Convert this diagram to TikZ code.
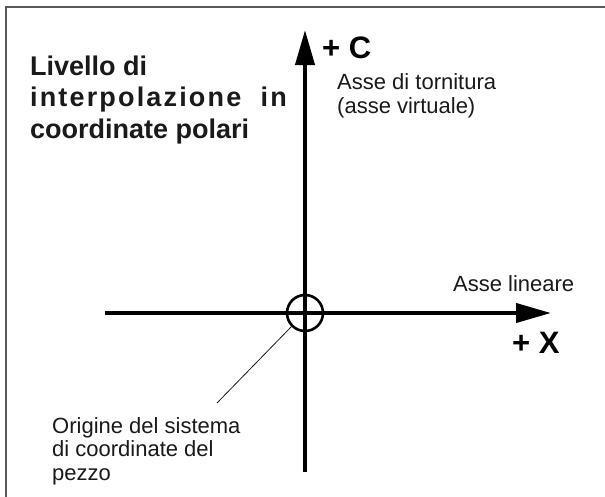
\documentclass[tikz,border=0pt]{standalone}
\usepackage{fontspec}
\setmainfont{Liberation Sans}
\usetikzlibrary{arrows.meta}
\definecolor{ink}{HTML}{1A1A1A}
\tikzset{
  axis/.style={line width=4pt, draw=black, -{Triangle[length=35pt,width=19pt]}},
  frameline/.style={line width=1.6pt, draw=black!65},
  lbl/.style={inner sep=0pt, anchor=base west, align=left, text=ink,
              font=\fontsize{22}{23.5}\selectfont},
  ttl/.style={inner sep=0pt, anchor=base west, align=left, text=ink,
              font=\bfseries\fontsize{27}{31.5}\selectfont},
  axlbl/.style={inner sep=0pt, anchor=base west, text=black,
              font=\bfseries\fontsize{31}{31}\selectfont},
  leader/.style={line width=0.8pt, draw=ink}
}
\begin{document}
\begin{tikzpicture}[x=1pt,y=-1pt]
  \useasboundingbox (0,0) rectangle (605,496);
  \fill[white] (0,0) rectangle (605,496);
  % frame (only top and left edges visible)
  \coordinate (fbl) at (6,497);
  \coordinate (ftl) at (6,7);
  \coordinate (ftr) at (606,7);
  \draw[frameline] (fbl) -- (ftl) -- (ftr);
  % axes
  \coordinate (cbot) at (305,472);
  \coordinate (ctop) at (305,30);
  \coordinate (xleft) at (105,313);
  \coordinate (xright) at (551,313);
  \draw[axis] (cbot) -- (ctop);
  \draw[axis] (xleft) -- (xright);
  % origin circle
  \node[circle, draw=black, line width=2.6pt, minimum size=36pt, inner sep=0pt] (origin) at (305,313) {};
  \coordinate (leadend) at (217,403);
  \draw[leader] (origin.225) -- (leadend);
  % labels
  \node[axlbl] (cl) at (322,58) {+ C};
  \node[axlbl] (xl) at (512,353) {+ X};
  \node[lbl] (turn) at (337,113) {Asse di tornitura\\(asse virtuale)};
  \node[lbl] (lin) at (453,291) {Asse lineare};
  \node[lbl] (orig) at (52,480) {Origine del sistema\\di coordinate del\\pezzo};
  \node[ttl] (title) at (30,138) {Livello di\\{\addfontfeature{LetterSpace=8}interpolazione\ \ in}\\coordinate polari};
\end{tikzpicture}
\end{document}
